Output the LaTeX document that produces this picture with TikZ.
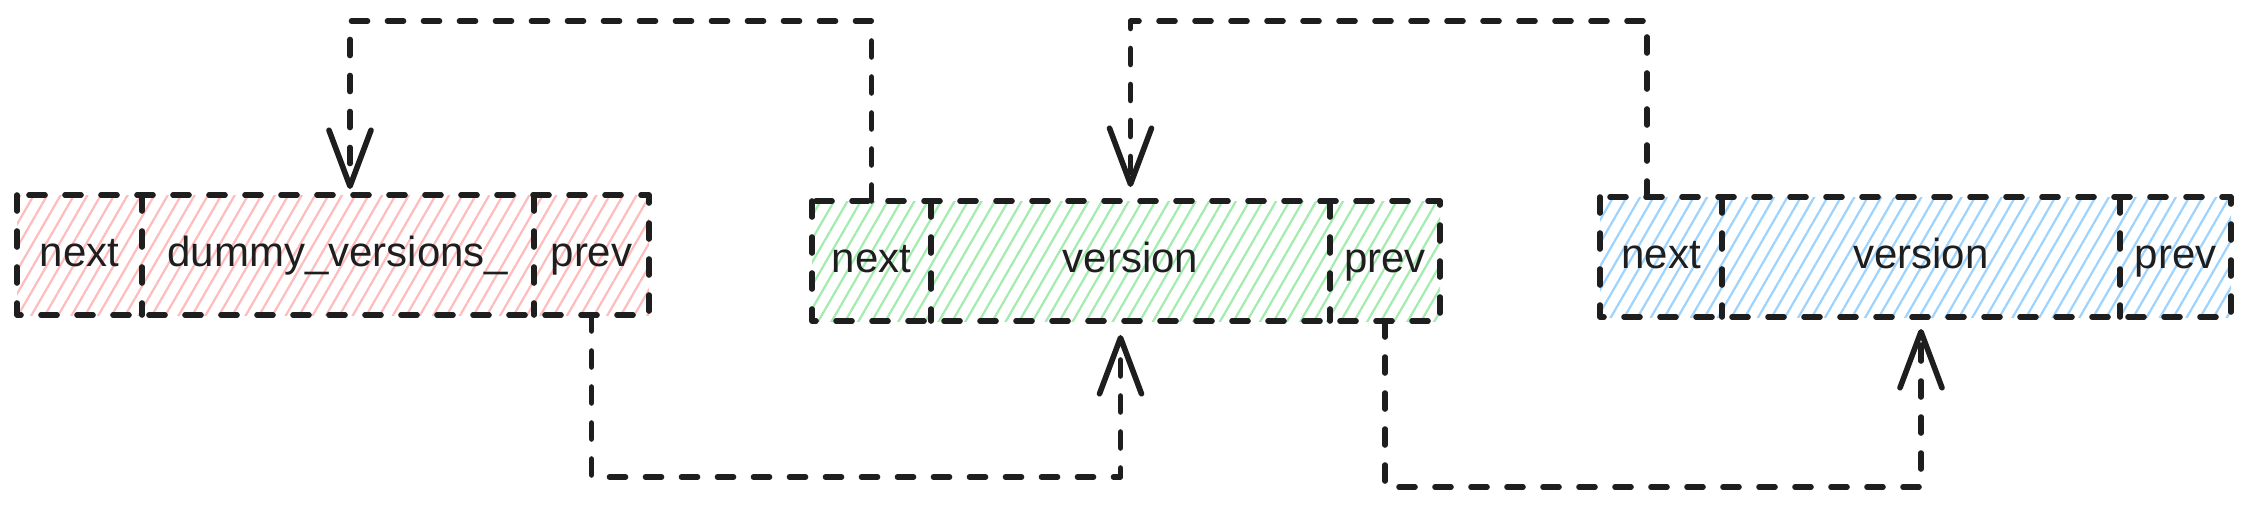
\documentclass[tikz,border=0pt]{standalone}
\usepackage{fontspec}
\setmainfont{Liberation Sans}
\usetikzlibrary{positioning,arrows.meta,patterns.meta,backgrounds}

\definecolor{ink}{HTML}{1E1E1E}
\definecolor{hatchred}{HTML}{FFBCBC}
\definecolor{hatchgreen}{HTML}{A2ECAE}
\definecolor{hatchblue}{HTML}{9CD3FF}

\begin{document}
\begin{tikzpicture}[
  x=0.5pt, y=-0.5pt,
  cell/.style={minimum height=60pt,inner sep=0pt,outer sep=0pt,
    text height=15pt,text depth=4pt,
    font=\fontsize{21}{24}\selectfont,text=ink},
  edge/.style={ink,line width=2.8pt,line cap=round,line join=round,
    dash pattern=on 8pt off 10pt},
  hatch/.style={pattern={Lines[angle=60,distance=5.8pt,line width=1.1pt]},
    pattern color=#1},
  link/.style={edge,-{Straight Barb[length=28pt,width=21pt,round]}}
]
  \useasboundingbox (0,0) rectangle (2245,509);
  \coordinate (toprow) at (0,21);
  \coordinate (bot1) at (0,477);
  \coordinate (bot2) at (0,487);

  % dummy head
  \node[cell,minimum width=62.5pt,anchor=north west] (b1next) at (17,195) {next};
  \node[cell,minimum width=196pt,right=0pt of b1next] (b1ver) {dummy\_versions\_};
  \node[cell,minimum width=57.5pt,right=0pt of b1ver] (b1prev) {prev};

  % first version
  \node[cell,minimum width=59.5pt,anchor=north west] (b2next) at (812,201) {next};
  \node[cell,minimum width=199.5pt,right=0pt of b2next] (b2ver) {version};
  \node[cell,minimum width=55pt,right=0pt of b2ver] (b2prev) {prev};

  % second version
  \node[cell,minimum width=61pt,anchor=north west] (b3next) at (1600,197) {next};
  \node[cell,minimum width=199pt,right=0pt of b3next] (b3ver) {version};
  \node[cell,minimum width=55.5pt,right=0pt of b3ver] (b3prev) {prev};

  % hatching and outlines
  \begin{scope}[on background layer]
    \fill[hatch=hatchred] (b1next.north west) rectangle (b1prev.south east);
    \fill[hatch=hatchgreen] (b2next.north west) rectangle (b2prev.south east);
    \fill[hatch=hatchblue] (b3next.north west) rectangle (b3prev.south east);
  \end{scope}
  \foreach \blk in {b1,b2,b3} {
    \draw[edge] (\blk next.north west) rectangle (\blk prev.south east);
    \draw[edge] (\blk next.north east) -- (\blk next.south east);
    \draw[edge] (\blk prev.north west) -- (\blk prev.south west);
  }

  % next pointers
  \draw[link,shorten >=3pt] (b2next.north) -- (b2next.north |- toprow)
    -| ([xshift=6pt]b1ver.north);
  \draw[link,shorten >=7pt] ([xshift=-7pt]b3next.north)
    -- ([xshift=-7pt]b3next.north |- toprow) -| (b2ver.north);

  % prev pointers
  \draw[link,shorten >=7pt] (b1prev.south) -- (b1prev.south |- bot1)
    -| ([xshift=-5pt]b2ver.south);
  \draw[link,shorten >=6pt] (b2prev.south) -- (b2prev.south |- bot2)
    -| (b3ver.south);
\end{tikzpicture}
\end{document}
